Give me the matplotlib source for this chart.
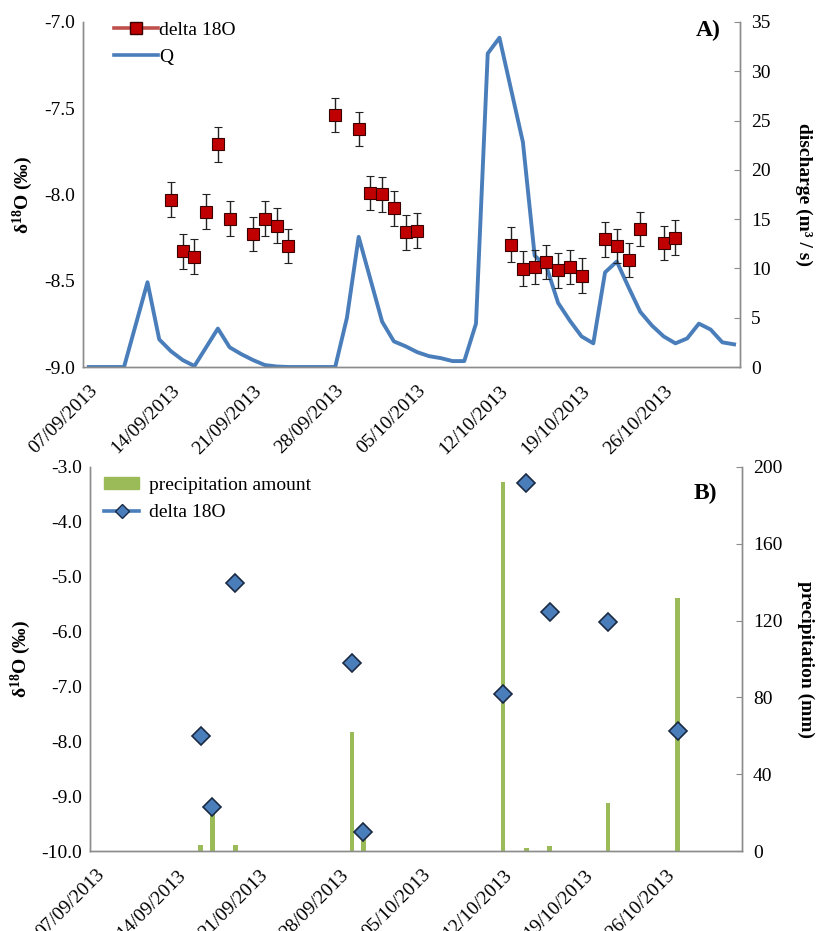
import pandas as pd
import matplotlib
matplotlib.use("Agg")
import matplotlib.pyplot as plt
import matplotlib.dates as mdates
from matplotlib.lines import Line2D
from matplotlib.patches import Patch

plt.rcParams['font.family'] = ['Liberation Serif', 'DejaVu Serif']
plt.rcParams['mathtext.fontset'] = 'custom'
plt.rcParams['mathtext.rm'] = 'Liberation Serif'
plt.rcParams['mathtext.bf'] = 'Liberation Serif:bold'

# daily discharge Q (m3/s), 07/09/2013 - 01/11/2013
q_start = '2013-09-07'
q_values = [0, 0, 0, 0, 4.3, 8.6, 2.8, 1.6, 0.7, 0.1, 2.0, 3.9, 2.0, 1.3, 0.7, 0.2,
            0.05, 0, 0, 0, 0, 0, 5.0, 13.2, 8.9, 4.6, 2.6, 2.1, 1.5, 1.1, 0.9, 0.6,
            0.6, 4.4, 31.8, 33.4, 28.1, 22.8, 11.3, 10.2, 6.5, 4.7, 3.1, 2.4, 9.6, 10.7,
            8.1, 5.6, 4.2, 3.1, 2.4, 2.9, 4.4, 3.8, 2.5, 2.3]

# river water delta 18O
river_dates = ['2013-09-14', '2013-09-15', '2013-09-16', '2013-09-17', '2013-09-18',
               '2013-09-19', '2013-09-21', '2013-09-22', '2013-09-23', '2013-09-24',
               '2013-09-28', '2013-09-30', '2013-10-01', '2013-10-02', '2013-10-03',
               '2013-10-04', '2013-10-05', '2013-10-13', '2013-10-14', '2013-10-15',
               '2013-10-16', '2013-10-17', '2013-10-18', '2013-10-19', '2013-10-21',
               '2013-10-22', '2013-10-23', '2013-10-24', '2013-10-26', '2013-10-27']
river_d18o = [-8.03, -8.33, -8.36, -8.10, -7.71, -8.14, -8.23, -8.14, -8.18, -8.30,
              -7.54, -7.62, -7.99, -8.00, -8.08, -8.22, -8.21, -8.29, -8.43, -8.42,
              -8.39, -8.44, -8.42, -8.47, -8.26, -8.30, -8.38, -8.20, -8.28, -8.25]
river_err = 0.1

# precipitation and rain delta 18O
rain_dates = ['2013-09-16', '2013-09-17', '2013-09-19', '2013-09-29', '2013-09-30',
              '2013-10-12', '2013-10-14', '2013-10-16', '2013-10-21', '2013-10-27']
rain_mm = [3, 20, 3, 62, 8, 192, 1.5, 2.5, 25, 132]
rain_d18o = [-7.90, -9.20, -5.12, -6.57, -9.65, -7.14, -3.29, -5.64, -5.82, -7.81]

tick_dates = pd.date_range(q_start, periods=8, freq='7D')

q_dates = pd.date_range(q_start, periods=len(q_values), freq='D')
river_dates = pd.to_datetime(river_dates)
rain_dates = pd.to_datetime(rain_dates)

blue = '#4A7EBB'
red = '#C00000'
green = '#9BBB59'
grey = '#8C8C8C'

fig = plt.figure(figsize=(8.19, 9.31), dpi=100)
ax1 = fig.add_axes([0.1013, 0.6058, 0.8022, 0.3706])
ax1r = ax1.twinx()
ax2 = fig.add_axes([0.1099, 0.0859, 0.7957, 0.4125])
ax2r = ax2.twinx()

x0 = pd.Timestamp(q_start) - pd.Timedelta(hours=12)
x1 = pd.Timestamp(q_start) + pd.Timedelta(days=55, hours=12)

# ---- panel A
ax1r.plot(q_dates, q_values, color=blue, lw=2.8, solid_joinstyle='round')
ax1.errorbar(river_dates, river_d18o, yerr=river_err, fmt='s', color=red, mfc=red,
             mec='#3a0000', mew=0.8, ms=8.5, ecolor='#222222', elinewidth=1.0,
             capsize=3, capthick=1.0)
ax1.set_zorder(ax1r.get_zorder() + 1)
ax1.patch.set_visible(False)

ax1.set_ylim(-9.0, -7.0)
ax1.set_yticks([-9.0, -8.5, -8.0, -7.5, -7.0])
ax1.set_yticklabels(['%.1f' % v for v in [-9.0, -8.5, -8.0, -7.5, -7.0]])
ax1r.set_ylim(0, 35)
ax1r.set_yticks(range(0, 36, 5))
ax1.set_ylabel(r'$\mathbf{\delta^{18}O}$ (‰)', fontsize=14, fontweight='bold', labelpad=6)
ax1r.set_ylabel('discharge (m³ / s)', fontsize=14, fontweight='bold', rotation=270,
                labelpad=30)
ax1.text(0.97, 0.975, 'A)', transform=ax1.transAxes, ha='right', va='center',
         fontsize=17, fontweight='bold')
h1 = [Line2D([], [], color='#C0504D', lw=2.6, marker='s', mfc=red, mec='#3a0000', ms=8),
      Line2D([], [], color=blue, lw=2.6)]
ax1.legend(h1, ['delta 18O', 'Q'], loc='upper left', bbox_to_anchor=(0.035, 1.025),
           frameon=False, fontsize=14, handlelength=2.3, handletextpad=0.05,
           labelspacing=0.5, borderaxespad=0)

# ---- panel B
ax2r.bar(rain_dates, rain_mm, width=0.4, color=green)
ax2.plot(rain_dates, rain_d18o, 'D', color=blue, mfc=blue, mec='#1a2a44', mew=1.2, ms=9)
ax2.set_zorder(ax2r.get_zorder() + 1)
ax2.patch.set_visible(False)

ax2.set_ylim(-10.0, -3.0)
ax2.set_yticks(range(-10, -2))
ax2.set_yticklabels(['%.1f' % v for v in range(-10, -2)])
ax2r.set_ylim(0, 200)
ax2r.set_yticks(range(0, 201, 40))
ax2.set_ylabel(r'$\mathbf{\delta^{18}O}$ (‰)', fontsize=14, fontweight='bold', labelpad=6)
ax2r.set_ylabel('precipitation (mm)', fontsize=14, fontweight='bold', rotation=270,
                labelpad=23)
ax2.text(0.962, 0.932, 'B)', transform=ax2.transAxes, ha='right', va='center',
         fontsize=17, fontweight='bold')
h2 = [Patch(color=green), Line2D([], [], color=blue, lw=2.6, marker='D', mfc=blue,
                                  mec='#1a2a44', ms=7)]
ax2.legend(h2, ['precipitation amount', 'delta 18O'], loc='upper left',
           bbox_to_anchor=(0.01, 0.995), frameon=False, fontsize=14, handlelength=1.8,
           handleheight=0.55, handletextpad=0.5, labelspacing=0.55, borderaxespad=0)

for ax, axr in [(ax1, ax1r), (ax2, ax2r)]:
    ax.set_xlim(x0, x1)
    ax.set_xticks(tick_dates)
    ax.xaxis.set_major_formatter(mdates.DateFormatter('%d/%m/%Y'))
    for lab in ax.get_xticklabels():
        lab.set_rotation(45)
        lab.set_ha('right')
        lab.set_va('top')
        lab.set_rotation_mode('anchor')
        lab.set_fontsize(14)
    ax.tick_params(axis='x', length=0, pad=11)
    ax.tick_params(axis='y', length=0, labelsize=14, pad=6)
    axr.tick_params(axis='y', direction='in', length=4, color=grey, labelsize=14, pad=8)
    for a in (ax, axr):
        a.spines['top'].set_visible(False)
        for s in ('left', 'right', 'bottom'):
            a.spines[s].set_color(grey)
            a.spines[s].set_linewidth(1.0)

fig.savefig('out.png', dpi=100)
